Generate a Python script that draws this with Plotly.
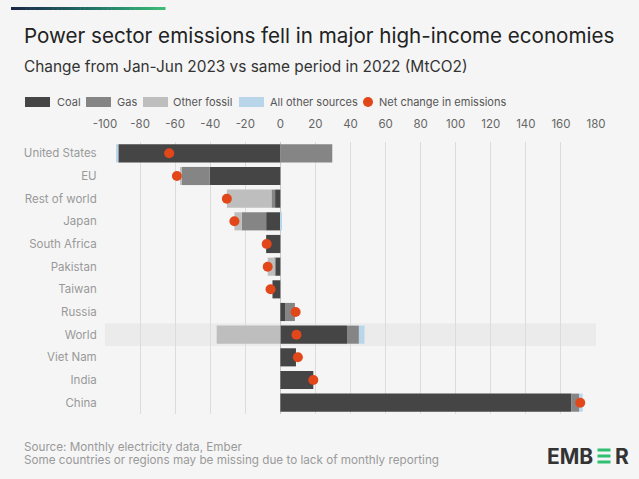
import plotly.graph_objects as go

categories = ["United States", "EU", "Rest of world", "Japan", "South Africa", "Pakistan",
              "Taiwan", "Russia", "World", "Viet Nam", "India", "China"]
coal = [-92.4, -40.2, -3.0, -8.1, -8.1, -2.5, -4.5, 3.0, 38.0, 8.9, 18.8, 166.0]
gas = [29.6, -16.0, -2.1, -13.9, 0.0, -0.6, 0.0, 5.3, 6.8, 0.0, 0.0, 4.5]
other_fossil = [0.0, -1.0, -25.4, -4.2, 0.0, -4.1, 0.0, 0.0, -36.3, 0.0, 0.0, 0.0]
all_other = [-1.3, 0.0, 0.0, 0.6, 0.0, 0.0, 0.0, 0.0, 3.2, 0.0, 0.0, 1.9]
net_change = [-63.4, -59.0, -30.5, -26.2, -7.8, -7.2, -5.6, 8.7, 9.2, 10.0, 18.8, 171.0]
x_ticks = list(range(-100, 181, 20))

W, H = 639, 479
ML, MR, MT, MB = 105, 43, 142, 65
PW, PH = W - ML - MR, H - MT - MB

def px(x):
    return (x - ML) / PW

def py(y):
    return (H - MB - y) / PH

FONT = "Inter"
COL = {"Coal": "#454545", "Gas": "#858585", "Other fossil": "#bebebe",
       "All other sources": "#b9d5ea"}
NET_COL = "#e2471a"

fig = go.Figure()
for name, vals in [("Coal", coal), ("Gas", gas), ("Other fossil", other_fossil),
                   ("All other sources", all_other)]:
    fig.add_trace(go.Bar(y=categories, x=vals, orientation="h", name=name,
                         marker=dict(color=COL[name], line=dict(width=0)),
                         showlegend=False))
fig.add_trace(go.Scatter(y=categories, x=net_change, mode="markers", name="Net change in emissions",
                         marker=dict(color=NET_COL, size=10, line=dict(width=0)),
                         showlegend=False))

shapes = []
annotations = []

# highlight band for World
wi = categories.index("World")
shapes.append(dict(type="rect", xref="x", yref="y", x0=-100, x1=180, y0=wi - 0.5, y1=wi + 0.5,
                   fillcolor="#ebebeb", line=dict(width=0), layer="below"))

# top gradient bar
def lerp(c1, c2, t):
    return "#%02x%02x%02x" % tuple(int(round(c1[i] + (c2[i] - c1[i]) * t)) for i in range(3))

c_a, c_b, c_c = (28, 40, 74), (31, 110, 100), (60, 186, 120)
n = 40
x0g, x1g = 11, 165
for i in range(n):
    t = i / (n - 1)
    col = lerp(c_a, c_b, t * 2) if t < 0.5 else lerp(c_b, c_c, (t - 0.5) * 2)
    xa = x0g + (x1g - x0g) * i / n
    xb = x0g + (x1g - x0g) * (i + 1) / n + 0.5
    shapes.append(dict(type="rect", xref="paper", yref="paper", x0=px(xa), x1=px(xb),
                       y0=py(10), y1=py(7), fillcolor=col, line=dict(width=0)))

def note(text, x, y, size, color, xanchor="left", bold=False):
    annotations.append(dict(text=text, x=px(x), y=py(y), xref="paper", yref="paper",
                            xanchor=xanchor, yanchor="middle", showarrow=False, align="left",
                            font=dict(family=FONT, size=size, color=color)))

# titles
note("Power sector emissions fell in major high-income economies", 22, 35, 20.6, "#222222")
note("Change from Jan-Jun 2023 vs same period in 2022 (MtCO2)", 22, 66, 15.4, "#333333")

# custom legend
leg_y = 102
items = [("Coal", 25, 55), ("Gas", 86, 115), ("Other fossil", 143, 171),
         ("All other sources", 239, 268)]
for name, sx, tx in items:
    shapes.append(dict(type="rect", xref="paper", yref="paper", x0=px(sx), x1=px(sx + 25),
                       y0=py(leg_y + 5), y1=py(leg_y - 5), fillcolor=COL[name], line=dict(width=0)))
    note(name, tx, leg_y, 11, "#555555")
shapes.append(dict(type="circle", xref="paper", yref="paper", x0=px(363), x1=px(373),
                   y0=py(leg_y + 5), y1=py(leg_y - 5), fillcolor=NET_COL, line=dict(width=0)))
note("Net change in emissions", 377, leg_y, 11, "#555555")

# footer
note("Source: Monthly electricity data, Ember", 22, 447, 11.7, "#9a9a9a")
note("Some countries or regions may be missing due to lack of monthly reporting", 22, 460, 11.7, "#9a9a9a")

# EMBER logo
note("<b>EMB</b>", 595, 456, 21, "#333333", xanchor="right")
note("<b>R</b>", 612.5, 456, 21, "#333333")
for yb in (448.5, 454.5, 460.5):
    shapes.append(dict(type="rect", xref="paper", yref="paper", x0=px(597.5), x1=px(610.5),
                       y0=py(yb + 3), y1=py(yb), fillcolor="#2fbf71", line=dict(width=0)))

fig.update_layout(
    width=W, height=H,
    margin=dict(l=ML, r=MR, t=MT, b=MB, pad=0),
    paper_bgcolor="#f5f5f5", plot_bgcolor="#f5f5f5",
    barmode="relative", bargap=0.2,
    showlegend=False,
    shapes=shapes, annotations=annotations,
    font=dict(family=FONT),
    xaxis=dict(side="top", range=[-100, 180], tickvals=x_ticks,
               ticktext=[str(v) for v in x_ticks],
               showgrid=True, gridcolor="#dcdcdc", gridwidth=1,
               zeroline=True, zerolinecolor="#c8c8c8", zerolinewidth=1,
               ticks="outside", ticklen=8, tickcolor="rgba(0,0,0,0)",
               tickfont=dict(family=FONT, size=11.5, color="#666666"), fixedrange=True),
    yaxis=dict(categoryorder="array", categoryarray=categories,
               range=[len(categories) - 0.5, -0.5], autorange=False,
               showgrid=False, zeroline=False, ticks="outside", ticklen=5,
               tickcolor="rgba(0,0,0,0)",
               tickfont=dict(family=FONT, size=11.5, color="#999999"), fixedrange=True),
)

fig.write_html("out.html", config={"displayModeBar": False})
